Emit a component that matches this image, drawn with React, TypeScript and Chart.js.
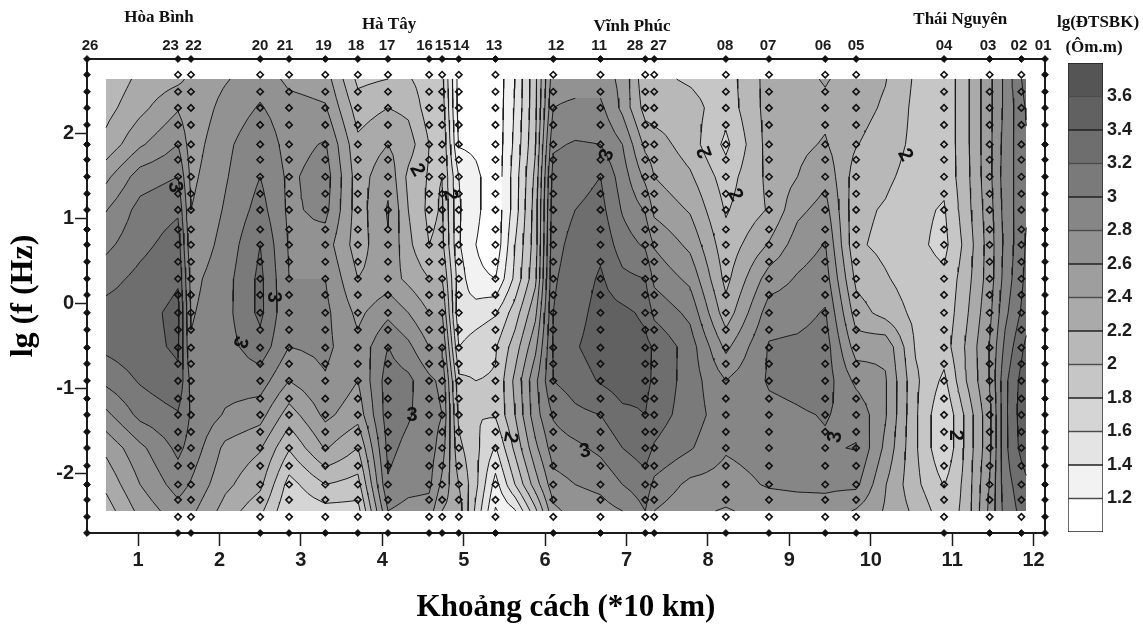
import React, { useEffect, useRef } from "react";
import { Chart, registerables } from "chart.js";

Chart.register(...registerables);

const stationLabels = ["26","23","22","20","21","19","18","17","16","15","14","13","12","11","28","27","08","07","06","05","04","03","02","01"];
const stationX = [0.373,1.491,1.65,2.5,2.855,3.3,3.7,4.07,4.575,4.735,4.94,5.39,6.1,6.68,7.23,7.34,8.22,8.75,9.44,9.82,10.9,11.46,11.85,12.14];
const stationLabelX = [0.41,1.399,1.682,2.498,2.806,3.279,3.678,4.059,4.519,4.746,4.968,5.373,6.135,6.663,7.105,7.393,8.21,8.739,9.414,9.82,10.9,11.44,11.82,12.117];
const stationRowsY = [2.875,2.69,2.49,2.3,2.1,1.87,1.69,1.49,1.29,1.1,0.87,0.69,0.49,0.29,0.1,-0.11,-0.31,-0.52,-0.71,-0.91,-1.12,-1.31,-1.51,-1.7,-1.91,-2.13,-2.31,-2.51,-2.7];

const xTicks = [1,2,3,4,5,6,7,8,9,10,11,12];
const yTicks = [-2,-1,0,1,2];

const gridX = [0.607,1.025,1.49,1.65,2.07,2.5,2.855,3.3,3.7,4.07,4.32,4.575,4.735,4.94,5.15,5.39,5.63,5.88,6.1,6.37,6.68,6.95,7.23,7.34,7.78,8.22,8.75,9.1,9.44,9.82,10.18,10.55,10.9,11.16,11.46,11.65,11.91];
const gridY = [2.64,2.3,1.87,1.49,1.1,0.69,0.29,-0.11,-0.51,-0.91,-1.31,-1.7,-2.13,-2.44];

// lg(resistivity); one line per gridX column, top to bottom
const field = [
  [2.05,2.13,2.26,2.55,2.79,2.95,3.12,3.28,3.25,3.05,2.75,2.45,2.25,2.1],
  [2.25,2.34,2.57,2.9,3.07,3.14,3.26,3.33,3.33,3.22,3.06,2.75,2.6,2.46],
  [2.35,2.58,2.8,3.0,3.17,3.3,3.38,3.45,3.43,3.36,3.18,3.05,2.89,2.72],
  [2.45,2.45,2.5,2.55,2.6,2.65,2.74,2.78,2.82,2.95,2.98,2.93,2.78,2.65],
  [2.58,2.67,2.75,2.78,2.82,2.87,2.92,2.93,2.92,2.88,2.78,2.55,2.45,2.32],
  [2.72,2.82,2.95,3.0,3.08,3.2,3.25,3.25,3.12,2.9,2.68,2.42,2.25,2.05],
  [2.55,2.68,2.72,2.76,2.76,2.78,2.8,2.82,2.8,2.6,2.3,2.02,1.72,1.62],
  [2.5,2.62,2.82,2.9,2.86,2.7,2.8,2.85,2.85,2.78,2.65,2.42,2.0,1.72],
  [1.95,2.1,2.25,2.3,2.3,2.3,2.4,2.55,2.65,2.6,2.48,2.2,1.92,1.72],
  [2.0,2.2,2.4,2.55,2.62,2.58,2.5,2.75,3.0,3.1,3.1,3.05,2.98,2.8],
  [2.02,2.15,2.3,2.15,2.2,2.25,2.35,2.6,2.85,3.05,3.02,2.95,2.88,2.72],
  [1.9,1.9,2.0,1.98,1.95,2.0,2.2,2.4,2.6,2.85,2.9,2.9,2.85,2.7],
  [1.85,1.9,1.98,2.0,2.02,2.05,2.2,2.4,2.6,2.75,2.8,2.7,2.55,2.4],
  [1.12,1.12,1.18,1.4,1.42,1.42,1.5,1.45,1.6,1.85,1.95,2.05,2.2,2.3],
  [1.0,1.0,1.15,1.25,1.25,1.2,1.25,1.5,1.7,1.8,1.8,1.85,1.85,1.75],
  [1.05,1.05,1.05,1.05,1.05,1.05,1.2,1.58,1.78,1.82,1.82,1.58,1.32,1.18],
  [1.4,1.42,1.45,1.5,1.5,1.6,1.65,1.9,2.1,2.25,2.2,2.05,1.8,1.38],
  [1.95,1.95,1.98,2.05,2.1,2.1,2.15,2.35,2.55,2.75,2.72,2.55,2.3,1.95],
  [2.72,2.8,2.97,3.08,3.12,3.15,3.18,3.2,3.22,3.2,3.02,2.9,2.72,2.55],
  [2.72,2.84,3.02,3.12,3.2,3.25,3.28,3.32,3.38,3.3,3.15,2.95,2.8,2.68],
  [2.7,2.85,3.0,3.2,3.27,3.35,3.43,3.48,3.5,3.42,3.2,3.05,2.85,2.72],
  [2.55,2.55,2.8,2.9,2.98,3.1,3.25,3.45,3.5,3.5,3.35,3.2,3.0,2.8],
  [2.05,2.12,2.35,2.55,2.78,2.97,3.2,3.36,3.45,3.45,3.4,3.3,3.12,3.0],
  [2.05,2.1,2.3,2.4,2.55,2.78,2.95,3.15,3.38,3.37,3.3,3.18,2.95,2.8],
  [1.97,2.08,2.1,2.23,2.38,2.55,2.75,2.95,3.1,3.1,3.1,3.02,2.75,2.65],
  [1.9,1.88,1.75,1.9,1.98,2.07,2.14,2.28,2.55,2.8,2.88,2.82,2.72,2.58],
  [2.28,2.28,2.28,2.25,2.22,2.42,2.7,2.9,3.02,3.02,2.95,2.88,2.82,2.68],
  [2.33,2.32,2.35,2.4,2.55,2.7,2.82,2.92,3.05,3.05,2.98,2.92,2.84,2.7],
  [2.42,2.35,2.42,2.55,2.68,2.81,2.9,3.02,3.1,3.1,3.01,2.98,2.84,2.72],
  [2.3,2.28,2.21,2.1,2.05,2.03,2.15,2.3,2.5,2.75,2.95,3.01,2.85,2.58],
  [2.21,2.17,2.1,2.04,1.98,1.95,2.02,2.12,2.55,2.62,2.62,2.55,2.41,2.38],
  [1.97,1.95,1.95,1.92,1.85,1.85,1.9,1.95,1.98,2.04,2.03,2.03,2.05,2.15],
  [1.85,1.85,1.85,1.85,1.78,1.74,1.84,1.86,1.9,1.75,1.61,1.61,1.79,1.88],
  [2.13,2.13,2.13,2.12,2.1,2.05,2.1,2.15,2.21,2.18,2.03,2.03,2.05,2.05],
  [2.55,2.55,2.55,2.55,2.52,2.5,2.5,2.55,2.61,2.61,2.55,2.55,2.61,2.65],
  [2.85,2.85,2.88,2.9,2.88,2.85,2.88,2.95,3.05,3.15,3.15,3.15,3.12,3.08],
  [3.3,3.22,3.18,3.15,3.18,3.22,3.25,3.3,3.45,3.55,3.59,3.55,3.35,3.3],
];

const bandEdges = [1.0,1.2,1.4,1.6,1.8,2.0,2.2,2.4,2.6,2.8,3.0,3.2,3.4,3.6,3.8];
const bandGreys = [255,242,228,213,198,184,170,158,146,134,122,110,97,85];
const contourLevels = [1.2,1.4,1.6,1.8,2.0,2.2,2.4,2.6,2.8,3.0,3.2,3.4];
const legendTicks = [1.2,1.4,1.6,1.8,2,2.2,2.4,2.6,2.8,3,3.2,3.4,3.6];

const contourText = ["3","3","3","2","2","3","2","2","2","3","2","3","3","2"];
const contourTextX = [1.454,2.658,2.253,4.427,4.833,6.761,7.965,8.334,10.42,4.366,5.57,6.49,9.563,11.04];
const contourTextY = [1.368,0.074,-0.455,1.568,1.274,1.745,1.78,1.274,1.745,-1.32,-1.572,-1.74,-1.572,-1.55];
const contourTextAngle = [80,90,110,60,80,-70,-110,60,60,0,100,-10,-80,90];

const regionNames = ["Hòa Bình","Hà Tây","Vĩnh Phúc","Thái Nguyên"];
const regionX = [1.258,4.083,7.068,11.1];
const regionPixelRise = [41,34,32,39];

const AX = '"Liberation Sans", Arial, sans-serif';
const SERIF = '"Liberation Serif", "Times New Roman", serif';
const INK = "#1c1c1c";

function valueAt(x: number, y: number) {
  let i = 0;
  while (i < gridX.length - 2 && x > gridX[i + 1]) i++;
  let j = 0;
  while (j < gridY.length - 2 && y < gridY[j + 1]) j++;
  const tx = (x - gridX[i]) / (gridX[i + 1] - gridX[i]);
  const ty = (y - gridY[j]) / (gridY[j + 1] - gridY[j]);
  const a = field[i][j] * (1 - ty) + field[i][j + 1] * ty;
  const b = field[i + 1][j] * (1 - ty) + field[i + 1][j + 1] * ty;
  return a * (1 - tx) + b * tx;
}

function contourPoints() {
  const out: { x: number; y: number }[] = [];
  const sub = 3;
  for (const lv of contourLevels) {
    for (let i = 0; i < gridX.length - 1; i++) {
      for (let j = 0; j < gridY.length - 1; j++) {
        for (let a = 0; a < sub; a++) {
          for (let b = 0; b < sub; b++) {
            const x0 = gridX[i] + ((gridX[i + 1] - gridX[i]) * a) / sub;
            const x1 = gridX[i] + ((gridX[i + 1] - gridX[i]) * (a + 1)) / sub;
            const y0 = gridY[j] + ((gridY[j + 1] - gridY[j]) * b) / sub;
            const y1 = gridY[j] + ((gridY[j + 1] - gridY[j]) * (b + 1)) / sub;
            const corners = [
              [x0, y0, valueAt(x0 + 1e-9, y0 - 1e-9)],
              [x1, y0, valueAt(x1 - 1e-9, y0 - 1e-9)],
              [x1, y1, valueAt(x1 - 1e-9, y1 + 1e-9)],
              [x0, y1, valueAt(x0 + 1e-9, y1 + 1e-9)],
            ];
            const hits: { x: number; y: number }[] = [];
            for (let k = 0; k < 4; k++) {
              const p = corners[k];
              const q = corners[(k + 1) % 4];
              if (p[2] < lv !== q[2] < lv) {
                const t = (lv - p[2]) / (q[2] - p[2]);
                hits.push({ x: p[0] + (q[0] - p[0]) * t, y: p[1] + (q[1] - p[1]) * t });
              }
            }
            for (let h = 0; h + 1 < hits.length; h += 2) {
              out.push(hits[h], hits[h + 1], { x: NaN, y: NaN });
            }
          }
        }
      }
    }
  }
  return out;
}

const fieldPlugin = {
  id: "fieldFill",
  beforeDatasetsDraw(chart: any) {
    const { x: sx, y: sy } = chart.scales;
    const left = Math.round(sx.getPixelForValue(gridX[0]));
    const right = Math.round(sx.getPixelForValue(gridX[gridX.length - 1]));
    const top = Math.round(sy.getPixelForValue(gridY[0]));
    const bottom = Math.round(sy.getPixelForValue(gridY[gridY.length - 1]));
    const w = right - left;
    const h = bottom - top;
    const off = document.createElement("canvas");
    off.width = w;
    off.height = h;
    const octx = off.getContext("2d")!;
    const img = octx.createImageData(w, h);
    for (let py = 0; py < h; py++) {
      const vy = sy.getValueForPixel(top + py + 0.5);
      for (let px = 0; px < w; px++) {
        const v = valueAt(sx.getValueForPixel(left + px + 0.5), vy);
        let b = Math.floor((v - 1) / 0.2);
        b = Math.max(0, Math.min(bandGreys.length - 1, b));
        const g = bandGreys[b];
        const o = (py * w + px) * 4;
        img.data[o] = g;
        img.data[o + 1] = g;
        img.data[o + 2] = g;
        img.data[o + 3] = 255;
      }
    }
    octx.putImageData(img, 0, 0);
    chart.ctx.drawImage(off, left, top);
  },
  afterDatasetsDraw(chart: any) {
    const { ctx, scales, chartArea } = chart;
    ctx.save();
    ctx.fillStyle = "#111";
    ctx.textAlign = "center";
    ctx.textBaseline = "middle";
    ctx.font = `bold 20px ${AX}`;
    contourText.forEach((t, i) => {
      ctx.save();
      ctx.translate(scales.x.getPixelForValue(contourTextX[i]), scales.y.getPixelForValue(contourTextY[i]));
      ctx.rotate((contourTextAngle[i] * Math.PI) / 180);
      ctx.fillText(t, 0, 0);
      ctx.restore();
    });
    ctx.font = `bold 17px ${SERIF}`;
    regionNames.forEach((t, i) => {
      ctx.fillText(t, scales.x.getPixelForValue(regionX[i]), chartArea.top - regionPixelRise[i]);
    });
    ctx.restore();
  },
};

const legendTitlePlugin = {
  id: "legendTitle",
  afterDraw(chart: any) {
    const { ctx, chartArea } = chart;
    ctx.save();
    ctx.fillStyle = "#111";
    ctx.textAlign = "center";
    ctx.textBaseline = "middle";
    ctx.font = `bold 17px ${SERIF}`;
    const cx = (chartArea.left + chartArea.right) / 2 + 12.5;
    ctx.fillText("lg(ĐTSBK)", cx, chartArea.top - 40);
    ctx.fillText("(Ôm.m)", cx - 4, chartArea.top - 15);
    ctx.restore();
  },
};

export default function App() {
  const mainRef = useRef<HTMLCanvasElement>(null);
  const legendRef = useRef<HTMLCanvasElement>(null);

  useEffect(() => {
    const inner: { x: number; y: number }[] = [];
    const frame: { x: number; y: number }[] = [];
    stationX.forEach((x, si) => {
      stationRowsY.forEach((y, ri) => {
        const edge = si === 0 || si === stationX.length - 1 || ri === 0 || ri === stationRowsY.length - 1;
        (edge ? frame : inner).push({ x, y });
      });
    });
    const axisBorder = { color: INK, width: 2 };
    const xMin = stationX[0];
    const xMax = stationX[stationX.length - 1];
    const yMin = stationRowsY[stationRowsY.length - 1];
    const yMax = stationRowsY[0];

    const chart = new Chart(mainRef.current!, {
      type: "scatter",
      plugins: [fieldPlugin],
      data: {
        datasets: [
          { label: "inner", data: inner, order: 1, pointStyle: "rectRot", pointRadius: 3.2, pointBackgroundColor: "rgba(0,0,0,0)", pointBorderColor: "#111", pointBorderWidth: 1.6, showLine: false },
          { label: "frame", data: frame, order: 1, clip: false, pointStyle: "rectRot", pointRadius: 3.4, pointBackgroundColor: "#111", pointBorderColor: "#111", pointBorderWidth: 1, showLine: false },
          { label: "contours", data: contourPoints(), order: 2, showLine: true, pointRadius: 0, borderColor: "#1a1a1a", borderWidth: 1, spanGaps: false, tension: 0 },
        ] as any,
      },
      options: {
        animation: false,
        responsive: false,
        devicePixelRatio: 1,
        normalized: false,
        layout: { padding: { left: 0, top: 0, bottom: 0, right: 98 } },
        plugins: { legend: { display: false }, tooltip: { enabled: false } },
        scales: {
          x: {
            type: "linear", position: "bottom", min: xMin, max: xMax,
            afterBuildTicks: (s: any) => { s.ticks = xTicks.map((value) => ({ value })); },
            afterFit: (s: any) => { s.height = 95; },
            ticks: { autoSkip: false, maxRotation: 0, color: INK, padding: 2, font: { family: AX, size: 20, weight: "bold" }, callback: (v: any) => String(v) },
            grid: { drawOnChartArea: false, tickLength: 13, color: INK, tickWidth: 1.5 },
            border: axisBorder,
            title: { display: true, text: "Khoảng cách (*10 km)", color: "#000", padding: { top: 0, bottom: 1 }, font: { family: SERIF, size: 31, weight: "bold" } },
          },
          xTop: {
            type: "linear", position: "top", min: xMin, max: xMax,
            afterBuildTicks: (s: any) => { s.ticks = stationLabelX.map((value) => ({ value })); },
            afterFit: (s: any) => { s.height = 59; },
            ticks: { autoSkip: false, maxRotation: 0, color: INK, padding: 4, font: { family: AX, size: 15, weight: "bold" }, callback: (_v: any, i: number) => stationLabels[i] },
            grid: { drawOnChartArea: false, drawTicks: false, tickLength: 0 },
            border: axisBorder,
          },
          y: {
            type: "linear", position: "left", min: yMin, max: yMax,
            afterBuildTicks: (s: any) => { s.ticks = yTicks.map((value) => ({ value })); },
            afterFit: (s: any) => { s.width = 87; },
            ticks: { autoSkip: false, color: INK, padding: 1, font: { family: AX, size: 20, weight: "bold" }, callback: (v: any) => String(v) },
            grid: { drawOnChartArea: false, tickLength: 12, color: INK, tickWidth: 1.5 },
            border: axisBorder,
            title: { display: true, text: "lg (f (Hz)", color: "#000", padding: { top: 5, bottom: 0 }, font: { family: SERIF, size: 32, weight: "bold" } },
          },
          yRight: {
            type: "linear", position: "right", min: yMin, max: yMax,
            afterFit: (s: any) => { s.width = 0; },
            ticks: { display: false },
            grid: { drawOnChartArea: false, drawTicks: false, tickLength: 0 },
            border: axisBorder,
          },
        },
      } as any,
    });

    const legend = new Chart(legendRef.current!, {
      type: "bar",
      plugins: [legendTitlePlugin],
      data: {
        labels: ["band"],
        datasets: bandGreys.map((g, i) => ({
          label: `b${i}`,
          data: [[bandEdges[i], bandEdges[i + 1]]],
          backgroundColor: `rgb(${g},${g},${g})`,
          borderColor: "#222",
          borderWidth: 1,
          borderSkipped: false,
          barPercentage: 1,
          categoryPercentage: 1,
          grouped: false,
        })) as any,
      },
      options: {
        animation: false,
        responsive: false,
        devicePixelRatio: 1,
        layout: { padding: { left: 22, top: 63, bottom: 96, right: 0 } },
        plugins: { legend: { display: false }, tooltip: { enabled: false } },
        scales: {
          x: { display: false },
          y: {
            position: "right", min: bandEdges[0], max: bandEdges[bandEdges.length - 1],
            afterBuildTicks: (s: any) => { s.ticks = legendTicks.map((value) => ({ value })); },
            afterFit: (s: any) => { s.width = 40; },
            ticks: { color: INK, padding: 4, font: { family: AX, size: 18, weight: "bold" }, callback: (v: any) => String(v) },
            grid: { display: false, drawTicks: false, tickLength: 0 },
            border: { display: false },
          },
        },
      } as any,
    });

    return () => {
      chart.destroy();
      legend.destroy();
    };
  }, []);

  return (
    <div style={{ position: "absolute", left: 0, top: 0, width: 1143, height: 628, background: "#fff", overflow: "hidden" }}>
      <canvas ref={mainRef} width={1143} height={628} style={{ position: "absolute", left: 0, top: 0 }} />
      <canvas ref={legendRef} width={97} height={628} style={{ position: "absolute", left: 1046, top: 0 }} />
    </div>
  );
}
